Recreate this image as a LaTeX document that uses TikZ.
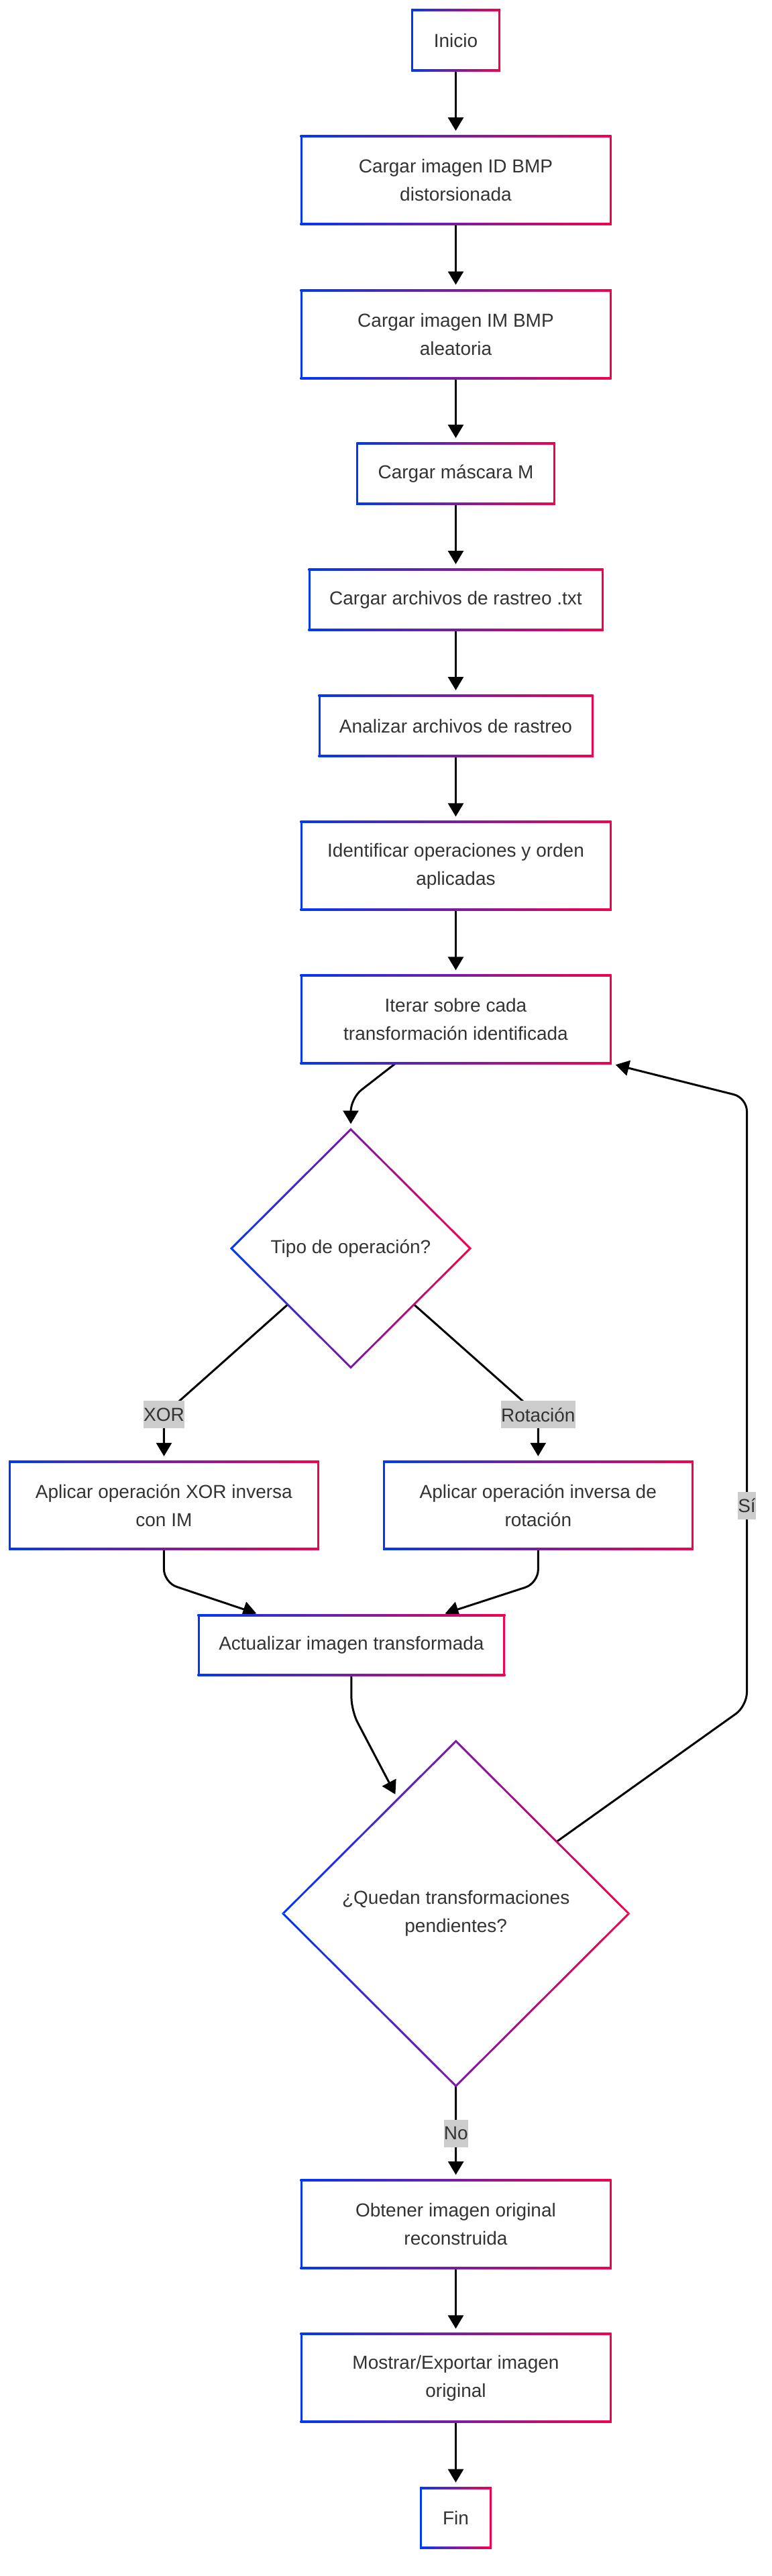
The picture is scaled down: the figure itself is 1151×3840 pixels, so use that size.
\documentclass[tikz,border=0pt]{standalone}
\usepackage{fontspec}
\setmainfont{Liberation Sans}
\usetikzlibrary{arrows.meta,shapes.geometric,calc}
\definecolor{cBl}{HTML}{0038F5}
\definecolor{cRd}{HTML}{F5004E}
\colorlet{cMd}{cBl!50!cRd}
\definecolor{txt}{HTML}{333333}
\newcommand\gradrect[1]{%
 \shade[left color=cBl,right color=cRd] ($(#1.north west)+(-1.5,-1.5)$) rectangle ($(#1.north east)+(1.5,1.5)$);
 \shade[left color=cBl,right color=cRd] ($(#1.south west)+(-1.5,-1.5)$) rectangle ($(#1.south east)+(1.5,1.5)$);
 \fill[cBl] ($(#1.north west)+(-1.5,-1.5)$) rectangle ($(#1.south west)+(1.5,1.5)$);
 \fill[cRd] ($(#1.north east)+(-1.5,-1.5)$) rectangle ($(#1.south east)+(1.5,1.5)$);
}
\newcommand\graddiam[1]{%
 \shade[left color=cBl,right color=cMd] ($(#1.west)+(-2.1,0)$) -- ($(#1.north)+(0,-2.1)$) -- ($(#1.north)+(0,2.1)$) -- ($(#1.west)+(2.1,0)$) -- cycle;
 \shade[left color=cBl,right color=cMd] ($(#1.west)+(-2.1,0)$) -- ($(#1.south)+(0,2.1)$) -- ($(#1.south)+(0,-2.1)$) -- ($(#1.west)+(2.1,0)$) -- cycle;
 \shade[left color=cMd,right color=cRd] ($(#1.east)+(2.1,0)$) -- ($(#1.north)+(0,-2.1)$) -- ($(#1.north)+(0,2.1)$) -- ($(#1.east)+(-2.1,0)$) -- cycle;
 \shade[left color=cMd,right color=cRd] ($(#1.east)+(2.1,0)$) -- ($(#1.south)+(0,2.1)$) -- ($(#1.south)+(0,-2.1)$) -- ($(#1.east)+(-2.1,0)$) -- cycle;
}
\begin{document}
\begin{tikzpicture}[x=0.5pt,y=-0.5pt,
  txtfont/.style={font=\fontsize{14}{21}\selectfont, text=txt},
  box/.style={txtfont, rectangle, inner sep=0pt, outer sep=0pt, align=center},
  wide/.style={box, minimum width=230.5pt, minimum height=65.5pt},
  slim/.style={box, minimum height=45pt},
  dec/.style={txtfont, diamond, inner sep=0pt, outer sep=0pt, align=center},
  edge/.style={draw=black, line width=1.5pt, -{Triangle[length=10pt,width=11.5pt]}, shorten >=4pt},
  lbl/.style={txtfont, fill=gray!40, inner xsep=0pt, inner ysep=0pt, minimum height=20.5pt}
]
\useasboundingbox (0,0) rectangle (1151,3840);
\fill[white] (0,0) rectangle (1151,3840);

% nodes
\node[slim, minimum width=65pt] (ini) at (679.5,60.2) {Inicio};
\node[wide] (b2) at (679.5,268.5) {Cargar imagen ID BMP\\distorsionada};
\node[wide] (b3) at (679.5,498) {Cargar imagen IM BMP\\aleatoria};
\node[slim, minimum width=146.75pt] (b4) at (679.5,706) {Cargar máscara M};
\node[slim, minimum width=218.5pt] (b5) at (679.5,894) {Cargar archivos de rastreo .txt};
\node[slim, minimum width=203.5pt] (b6) at (679.5,1082) {Analizar archivos de rastreo};
\node[wide] (b7) at (679.5,1290.8) {Identificar operaciones y orden\\aplicadas};
\node[wide] (it) at (679.5,1519.8) {Iterar sobre cada\\transformación identificada};
\node[dec, minimum width=178pt, minimum height=177.5pt] (d1) at (523,1861) {Tipo de operación?};
\node[wide, minimum width=229.65pt, minimum height=65.15pt] (bx) at (244.4,2243.9) {Aplicar operación XOR inversa\\con IM};
\node[wide, minimum width=229.7pt, minimum height=65.15pt] (br) at (802.3,2243.9) {Aplicar operación inversa de\\rotación};
\node[slim, minimum width=227.85pt, minimum height=44.65pt] (act) at (523.9,2452.4) {Actualizar imagen transformada};
\node[dec, minimum width=257.7pt, minimum height=257pt] (d2) at (679.7,2852.5) {¿Quedan transformaciones\\pendientes?};
\node[wide] (ob) at (679.5,3315.5) {Obtener imagen original\\reconstruida};
\node[wide] (mo) at (679.5,3544.8) {Mostrar/Exportar imagen\\original};
\node[slim, minimum width=51.7pt, minimum height=44.7pt] (fin) at (679.5,3753.3) {Fin};

% label positions and bends
\coordinate (xl) at (244.5,2108.8);
\coordinate (rl) at (802.3,2108.8);
\coordinate (nl) at (679.7,3180);
\coordinate (sl) at (1113.5,2244);
\coordinate (k1) at (523,1637);
\coordinate (k2) at (1113.5,2543);
\coordinate (k3) at (1113.5,1636.4);

% connectors
\draw[edge] (ini) -- (b2);
\draw[edge] (b2) -- (b3);
\draw[edge] (b3) -- (b4);
\draw[edge] (b4) -- (b5);
\draw[edge] (b5) -- (b6);
\draw[edge] (b6) -- (b7);
\draw[edge] (b7) -- (it);
\draw[edge, rounded corners=10pt] ($(it.south)+(-90,0)$) -- (k1) -- (d1.north);
\draw[edge] (d1) -- (xl) -- (bx);
\draw[edge] (d1) -- (rl) -- (br);
\draw[edge, rounded corners=10pt] (bx.south) -- ++(0,50) -- ($(act.north)+(-134,0)$);
\draw[edge, rounded corners=10pt] (br.south) -- ++(0,51) -- ($(act.north)+(132,0)$);
\draw[edge, rounded corners=10pt] (act.south) -- ++(0,53) -- ($(d2.north)!0.336!(d2.west)$);
\draw[edge, rounded corners=10pt] (d2) -- (k2) -- (k3) -- (it.south east);
\draw[edge] (d2.south) -- (nl) -- (ob);
\draw[edge] (ob) -- (mo);
\draw[edge] (mo) -- (fin);

% gradient borders
\gradrect{ini}\gradrect{b2}\gradrect{b3}\gradrect{b4}\gradrect{b5}\gradrect{b6}
\gradrect{b7}\gradrect{it}\gradrect{bx}\gradrect{br}\gradrect{act}
\gradrect{ob}\gradrect{mo}\gradrect{fin}
\graddiam{d1}\graddiam{d2}

% edge labels
\node[lbl] (xlab) at (xl) {XOR};
\node[lbl] (rlab) at (rl) {Rotación};
\node[lbl] (nlab) at (nl) {No};
\node[lbl] (slab) at (sl) {Sí};
\end{tikzpicture}
\end{document}
